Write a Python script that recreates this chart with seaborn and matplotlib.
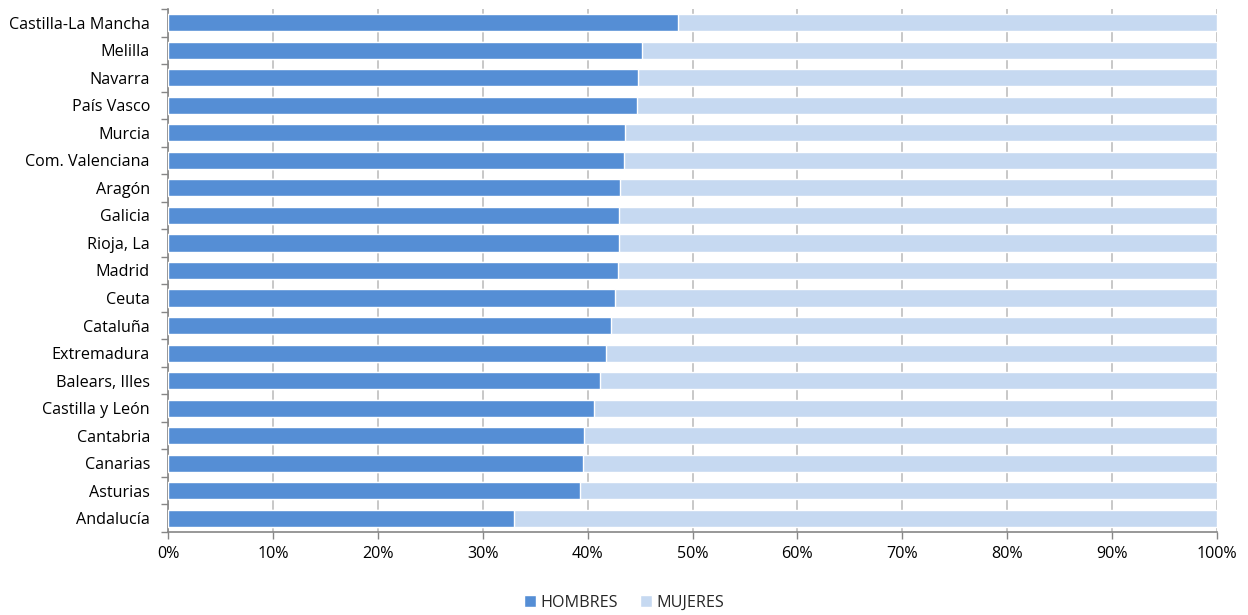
import matplotlib
matplotlib.use("Agg")
import matplotlib.pyplot as plt
import seaborn as sns
import pandas as pd
import numpy as np
from matplotlib.patches import Patch
from matplotlib.ticker import FixedLocator

regiones = ["Castilla-La Mancha", "Melilla", "Navarra", "País Vasco", "Murcia",
            "Com. Valenciana", "Aragón", "Galicia", "Rioja, La", "Madrid", "Ceuta",
            "Cataluña", "Extremadura", "Balears, Illes", "Castilla y León",
            "Cantabria", "Canarias", "Asturias", "Andalucía"]
hombres = [48.66, 45.2, 44.82, 44.72, 43.58, 43.48, 43.1, 43.04, 43.0, 42.9,
           42.62, 42.24, 41.77, 41.19, 40.62, 39.67, 39.57, 39.3, 32.99]
mujeres = [100 - h for h in hombres]
xticks = [0, 10, 20, 30, 40, 50, 60, 70, 80, 90, 100]
xticklabels = [f"{t}%" for t in xticks]

c_h = "#558ED5"
c_m = "#C6D9F1"
grid_c = "#BFBFBF"
axis_c = "#868686"

sns.set_theme(style="white")
plt.rcParams["font.family"] = ["Open Sans", "DejaVu Sans"]

df = pd.DataFrame({"region": regiones, "hombres": hombres, "mujeres": mujeres})
df["total"] = df["hombres"] + df["mujeres"]

fig = plt.figure(figsize=(12.48, 6.15), dpi=100)
ax = fig.add_axes([168/1248, 1 - 532/615, (1217-168)/1248, (532-9)/615])

sns.barplot(data=df, y="region", x="total", order=regiones, color=c_m,
            width=0.62, orient="h", ax=ax, saturation=1, zorder=3)
sns.barplot(data=df, y="region", x="hombres", order=regiones, color=c_h,
            width=0.62, orient="h", ax=ax, saturation=1, zorder=4)

fs = 11.6
ax.set_xlim(0, 100)
ax.set_ylim(len(regiones) - 0.5, -0.5)
ax.set_xticks(xticks)
ax.set_xticklabels(xticklabels, fontsize=fs, color="#000000")
ax.set_xlabel("")
ax.set_ylabel("")
ax.tick_params(axis="y", which="major", length=0, labelsize=fs, labelcolor="#000000", pad=13)
ax.yaxis.set_minor_locator(FixedLocator(np.arange(-0.5, len(regiones), 1.0)))
ax.tick_params(axis="y", which="minor", length=5, width=1, color=axis_c, left=True)
ax.tick_params(axis="x", which="major", length=5, width=1, color=axis_c, bottom=True, pad=5)
ax.xaxis.grid(True, color=grid_c, linewidth=1.2, zorder=0)
ax.set_axisbelow(True)
for s in ["top", "right"]:
    ax.spines[s].set_visible(False)
for s in ["left", "bottom"]:
    ax.spines[s].set_color(axis_c)
    ax.spines[s].set_linewidth(1.2)

handles = [Patch(facecolor=c_h, label="HOMBRES"), Patch(facecolor=c_m, label="MUJERES")]
fig.legend(handles=handles, loc="center", bbox_to_anchor=(0.5, 1 - 603/615), ncol=2,
           frameon=False, fontsize=fs, handlelength=0.75, handleheight=0.75,
           handletextpad=0.25, columnspacing=1.4)

fig.savefig("out.png", dpi=100)
